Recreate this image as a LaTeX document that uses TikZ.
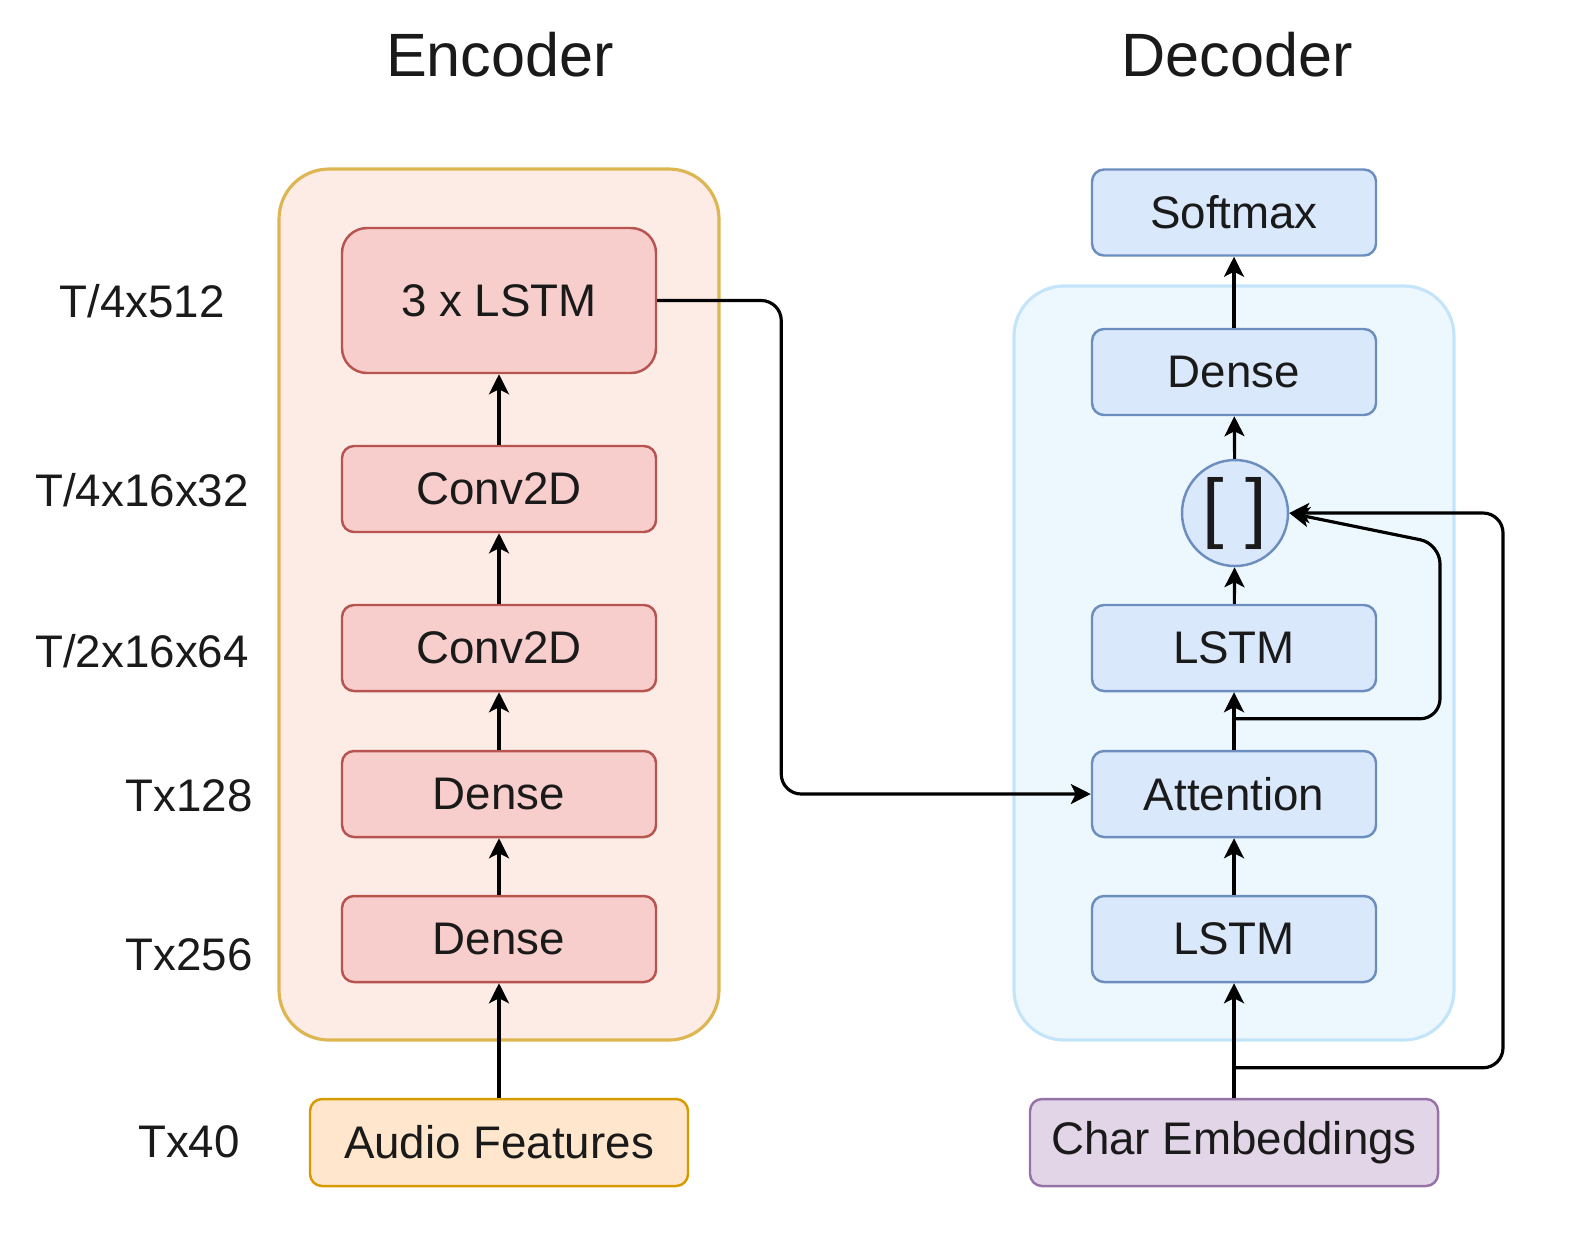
\documentclass[tikz,border=0pt]{standalone}
\usepackage{fontspec}
\setmainfont{Liberation Sans}
\usepackage{xcolor}
\usetikzlibrary{positioning,calc,arrows.meta}

\definecolor{encback}{HTML}{FDEBE5}
\definecolor{encframe}{HTML}{DDB652}
\definecolor{encfill}{HTML}{F8CECC}
\definecolor{encline}{HTML}{B85450}
\definecolor{decback}{HTML}{EDF8FE}
\definecolor{decframe}{HTML}{C4E5F9}
\definecolor{decfill}{HTML}{DAE8FC}
\definecolor{decline}{HTML}{6C8EBF}
\definecolor{audiofill}{HTML}{FFE6CC}
\definecolor{audioline}{HTML}{D79B00}
\definecolor{charfill}{HTML}{E1D5E7}
\definecolor{charline}{HTML}{9673A6}
\definecolor{textgray}{HTML}{1A1A1A}

\tikzset{
    layer/.style={draw, line width=0.7pt, rounded corners=0.12cm, minimum height=0.86cm,
        inner sep=0pt, text=textgray, font=\fontsize{13}{15}\selectfont},
    enclayer/.style={layer, fill=encfill, draw=encline, minimum width=3.14cm},
    declayer/.style={layer, fill=decfill, draw=decline, minimum width=2.84cm},
    flow/.style={-{Stealth[length=0.2cm,width=0.2cm,inset=0.05cm]}, line width=0.9pt},
    dimlabel/.style={text=textgray, font=\fontsize{13}{15}\selectfont},
    heading/.style={text=textgray, font=\fontsize{17.4}{20}\selectfont}
}

\begin{document}
\begin{tikzpicture}
    \useasboundingbox (0,0) rectangle (15.82,-12.46);

    % Containers
    \draw[line width=0.9pt, draw=encframe, fill=encback, rounded corners=0.5cm] (2.79,-1.69) rectangle (7.19,-10.40);
    \draw[line width=0.9pt, draw=decframe, fill=decback, rounded corners=0.5cm] (10.14,-2.86) rectangle (14.54,-10.40);
    \node[heading] (enctitle) at (5.00,-0.55) {Encoder};
    \node[heading] (dectitle) at (12.37,-0.55) {Decoder};

    % Encoder
    \node[enclayer, minimum height=1.45cm, rounded corners=0.25cm] (enclstm) at (4.99,-3.005) {3 x LSTM};
    \node[enclayer] (conv2) at (4.99,-4.89) {Conv2D};
    \node[enclayer] (conv1) at (4.99,-6.48) {Conv2D};
    \node[enclayer] (dense2) at (4.99,-7.94) {Dense};
    \node[enclayer] (dense1) at (4.99,-9.39) {Dense};
    \node[layer, fill=audiofill, draw=audioline, minimum width=3.78cm, minimum height=0.87cm] (audio) at (4.99,-11.425) {Audio Features};

    % Shapes at each step
    \node[dimlabel] (dim5) at (1.42,-3.01) {T/4x512};
    \node[dimlabel] (dim4) at (1.42,-4.90) {T/4x16x32};
    \node[dimlabel] (dim3) at (1.42,-6.51) {T/2x16x64};
    \node[dimlabel] (dim2) at (1.89,-7.96) {Tx128};
    \node[dimlabel] (dim1) at (1.89,-9.55) {Tx256};
    \node[dimlabel] (dim0) at (1.89,-11.42) {Tx40};

    \draw[flow] (audio) -- (dense1);
    \draw[flow] (dense1) -- (dense2);
    \draw[flow] (dense2) -- (conv1);
    \draw[flow] (conv1) -- (conv2);
    \draw[flow] (conv2) -- (enclstm);

    % Decoder
    \node[declayer] (softmax) at (12.34,-2.125) {Softmax};
    \node[declayer] (decdense) at (12.34,-3.72) {Dense};
    \node[circle, draw=decline, fill=decfill, line width=0.7pt, minimum size=1.06cm, inner sep=0pt,
        text=textgray, font=\fontsize{22}{24}\selectfont] (concat) at (12.35,-5.13) {[ ]};
    \node[declayer] (declstm2) at (12.34,-6.48) {LSTM};
    \node[declayer] (attn) at (12.34,-7.94) {Attention};
    \node[declayer] (declstm1) at (12.34,-9.39) {LSTM};
    \node[layer, fill=charfill, draw=charline, minimum width=4.08cm, minimum height=0.87cm] (charemb) at (12.34,-11.425) {Char Embeddings};

    \draw[flow] (charemb) -- (declstm1);
    \draw[flow] (declstm1) -- (attn);
    \draw[flow] (attn) -- (declstm2);
    \draw[flow] (declstm2) -- (concat);
    \draw[flow] (concat) -- (decdense);
    \draw[flow] (decdense) -- (softmax);

    % Skip connections
    \coordinate (charsplit) at ($(charemb.north)+(0,0.30)$);
    \coordinate (attnsplit) at ($(attn.north)+(0,0.31)$);
    \draw[flow, rounded corners=0.2cm] (enclstm.east) -- ++(1.24,0) |- (attn.west);
    \draw[flow, rounded corners=0.2cm] (charsplit) -- ++(2.69,0) |- (concat.east);
    \draw[flow, rounded corners=0.2cm] (attnsplit) -- ++(2.06,0) -- ++(0,1.75) -- (concat.east);
\end{tikzpicture}
\end{document}
